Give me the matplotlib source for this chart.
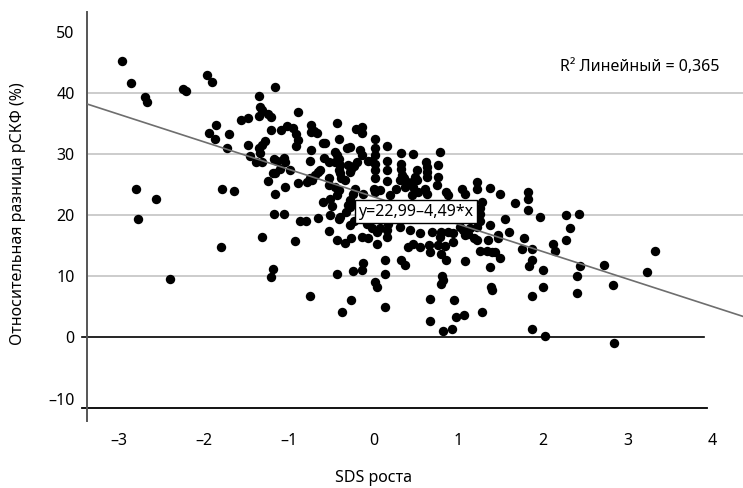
import matplotlib
matplotlib.use("Agg")
import numpy as np
from matplotlib import pyplot as plt

plt.rcParams['font.family'] = ['Noto Sans', 'DejaVu Sans']

# SDS роста / относительная разница рСКФ
left_pts = [
    (-2.97, 45.2), (-2.86, 41.6), (-2.70, 39.3), (-2.67, 38.5), (-2.25, 40.6), (-2.21, 40.3),
    (-1.96, 42.9), (-1.91, 41.7), (-1.16, 40.9), (-1.35, 39.4), (-1.34, 37.6), (-1.31, 37.2),
    (-1.35, 36.2), (-1.24, 36.5), (-1.21, 36.0), (-1.48, 35.9), (-1.56, 35.5), (-1.86, 34.7),
    (-1.94, 33.4), (-1.87, 32.5), (-1.70, 33.3), (-1.73, 31.0), (-1.48, 31.5), (-1.46, 29.7),
    (-1.35, 31.0), (-1.31, 31.4), (-1.28, 32.1), (-1.34, 30.1), (-1.21, 33.9), (-1.09, 33.9),
    (-1.38, 28.7), (-1.31, 28.7), (-1.17, 29.2), (-1.14, 28.9), (-1.06, 29.4), (-1.04, 28.7),
    (-0.98, 27.3), (-1.10, 27.6), (-1.19, 26.8), (-1.16, 26.8), (-1.25, 25.6), (-1.04, 24.6),
    (-1.16, 23.5), (-0.89, 25.3), (-1.02, 34.5), (-0.95, 34.2), (-0.91, 33.3), (-0.89, 32.2),
    (-0.91, 31.3), (-0.89, 36.9), (-2.80, 24.3), (-2.56, 22.7), (-1.79, 24.2), (-1.65, 23.9),
    (-2.78, 19.3), (-1.80, 14.8), (-2.40, 9.6), (-1.17, 20.2), (-1.06, 20.1), (-1.32, 16.4),
    (-0.93, 15.7), (-0.87, 19.1), (-1.19, 11.1), (-1.21, 9.9),
]
mid_upper_pts = [
    (-0.74, 34.7), (-0.74, 33.6), (-0.70, 33.8), (-0.67, 33.4), (-0.43, 35.1), (-0.41, 32.5),
    (-0.21, 34.0), (-0.13, 34.4), (-0.13, 33.4), (0.02, 32.5), (-0.74, 30.7), (-0.75, 28.9),
    (-0.59, 31.7), (-0.57, 31.8), (-0.58, 29.3), (-0.53, 28.7), (-0.45, 30.3), (-0.43, 29.8),
    (-0.41, 29.2), (-0.45, 28.7), (-0.40, 28.2), (-0.41, 27.3), (-0.40, 26.8), (-0.38, 26.0),
    (-0.31, 30.9), (-0.28, 31.1), (-0.30, 28.2), (-0.26, 27.6), (-0.28, 27.1), (-0.16, 30.6),
    (-0.14, 29.8), (-0.20, 28.7), (-0.23, 28.0), (-0.06, 28.9), (-0.02, 28.9), (0.02, 30.9),
    (0.02, 29.8), (0.02, 28.4), (0.02, 27.3), (0.02, 26.0), (0.00, 24.3), (0.02, 23.8),
    (0.16, 31.3), (0.16, 28.9), (0.16, 27.3), (0.16, 25.6), (-0.65, 27.1), (-0.63, 27.3),
    (-0.69, 26.5), (-0.75, 26.1), (-0.79, 25.4), (-0.73, 25.7), (-0.52, 26.0), (-0.45, 24.6),
    (-0.41, 24.1), (-0.34, 25.7), (-0.22, 24.3), (-0.24, 23.5), (-0.59, 22.1), (-0.51, 22.7),
    (-0.49, 21.4), (-0.30, 21.6), (-0.28, 22.4), (-0.53, 24.9), (-0.43, 23.2), (-0.12, 23.4),
    (0.08, 24.1), (0.19, 23.2), (0.27, 24.3),
]
mid_lower_pts = [
    (-0.51, 20.0), (-0.40, 19.7), (-0.41, 19.4), (-0.32, 20.5), (-0.28, 21.3), (-0.26, 21.9),
    (-0.28, 18.3), (-0.23, 19.1), (-0.80, 19.1), (-0.66, 19.5), (-0.53, 17.4), (-0.43, 15.9),
    (-0.34, 15.4), (-0.26, 16.2), (-0.14, 16.4), (-0.06, 16.2), (0.04, 15.3), (0.16, 16.4),
    (0.16, 17.5), (-0.16, 20.2), (-0.08, 18.6), (-0.02, 17.8), (0.04, 17.2), (0.08, 17.8),
    (0.17, 18.6), (-0.75, 6.7), (-0.43, 10.4), (-0.24, 10.8), (-0.13, 11.0), (-0.12, 12.1),
    (-0.27, 6.1), (-0.37, 4.1), (0.02, 9.1), (0.04, 8.2), (0.13, 10.4), (0.14, 12.6), (0.14, 5.0),
]
right_pts = [
    (0.32, 30.2), (0.46, 30.0), (0.78, 30.3), (0.76, 28.2), (0.62, 28.7), (0.63, 27.9),
    (0.63, 27.1), (0.63, 26.2), (0.51, 27.3), (0.49, 26.2), (0.51, 25.7), (0.33, 28.4),
    (0.32, 27.6), (0.34, 26.5), (0.36, 26.0), (0.39, 25.4), (0.31, 25.7), (0.37, 24.6),
    (0.75, 24.9), (0.86, 23.8), (0.88, 23.2), (1.04, 24.3), (1.08, 23.5), (1.22, 25.4),
    (1.22, 24.3), (1.37, 24.5), (1.49, 23.5), (0.45, 25.4), (0.47, 24.6), (0.61, 24.3),
    (0.63, 23.5), (0.76, 26.2), (0.45, 23.2), (0.53, 23.8), (1.67, 22.0), (1.82, 23.8),
    (1.82, 22.7), (1.82, 20.9), (1.28, 22.2), (1.26, 21.2), (1.26, 20.1), (1.26, 19.1),
    (1.37, 18.3), (1.96, 19.7), (2.27, 20.0), (2.42, 20.1), (1.14, 17.9), (1.12, 16.9),
    (1.08, 16.7), (1.18, 16.2), (1.22, 15.9), (1.26, 14.2), (1.34, 14.2), (1.40, 13.9),
    (1.43, 13.9), (1.49, 13.0), (1.35, 15.9), (1.47, 16.2), (1.47, 16.7), (1.55, 19.3),
    (1.60, 17.2), (1.77, 16.3), (1.75, 14.5), (1.87, 14.5), (1.87, 12.7), (1.83, 11.6),
    (2.12, 15.2), (2.14, 14.2), (2.27, 15.9), (2.32, 17.8), (2.00, 11.0), (2.44, 11.6),
    (2.40, 10.0), (2.40, 7.3), (2.00, 8.2), (1.87, 6.7), (1.39, 8.3), (1.40, 7.8),
    (1.37, 11.5), (1.08, 12.5), (2.72, 11.9), (2.82, 8.5), (3.23, 10.7), (3.32, 14.2),
    (1.07, 3.6), (1.28, 4.1), (1.87, 1.4), (2.02, 0.2), (2.84, -0.9), (0.41, 14.8),
    (0.47, 15.3), (0.55, 14.8), (0.65, 15.1), (0.67, 14.0), (0.78, 16.4), (0.76, 15.1),
    (0.80, 13.7), (0.69, 17.2), (0.80, 17.2), (0.88, 17.2), (0.94, 17.0), (1.02, 18.1),
    (1.06, 17.5), (1.22, 18.1), (0.31, 18.1), (0.43, 17.6), (0.55, 17.0), (0.33, 12.6),
    (0.37, 11.9), (0.81, 10.1), (0.80, 8.8), (0.82, 9.4), (0.67, 6.3), (0.67, 2.7),
    (0.82, 1.0), (0.93, 1.4), (0.95, 6.1), (0.97, 3.4), (0.86, 12.7), (0.84, 14.9), (0.94, 15.6),
]

intercept = 22.99
slope = -4.49
r2 = "0,365"

x_ticks = [-3, -2, -1, 0, 1, 2, 3, 4]
y_ticks = [-10, 0, 10, 20, 30, 40, 50]
grid_y = [10, 20, 30, 40]

pts = np.array(left_pts + mid_upper_pts + mid_lower_pts + right_pts)
fs = 11.5

fig = plt.figure(figsize=(7.43, 4.88), dpi=100)
ax = fig.add_axes([87.3 / 743, 79.7 / 488, (743 - 87.3) / 743, (408.3 - 12) / 488])
x0, x1 = -3.375, 4.357
y0, y1 = -11.6, 53.2
ax.set_xlim(x0, x1)
ax.set_ylim(y0, y1)

for g in grid_y:
    ax.axhline(g, color='#c4c4c4', lw=1.2, zorder=1)
ax.plot([-3.44, 3.9], [0, 0], color='black', lw=1.2, clip_on=False, zorder=2)
ax.plot([-3.44, 3.93], [y0, y0], color='black', lw=1.3, clip_on=False, zorder=2)
ax.plot([x0, x0], [-13.7, y1], color='#555555', lw=1.4, clip_on=False, zorder=2)

ax.scatter(pts[:, 0], pts[:, 1], s=46, color='black', linewidths=0, zorder=3)
ax.axline((0, intercept), slope=slope, color='#6e6e6e', lw=1.2, zorder=4)

ax.text(0.50, 20.5, "y=22,99–4,49*x", ha='center', va='center', fontsize=fs, zorder=5,
        bbox=dict(boxstyle='square,pad=0.22', fc='white', ec='black', lw=1.0))
ax.text(3.14, 44.2, "R² Линейный = " + r2, ha='center', va='center', fontsize=fs)

for s in ax.spines.values():
    s.set_visible(False)
ax.set_xticks(x_ticks)
ax.set_xticklabels([str(t).replace('-', '–') for t in x_ticks])
ax.set_yticks(y_ticks)
ax.set_yticklabels([str(t).replace('-', '–') for t in y_ticks])
ax.tick_params(axis='x', length=0, pad=18, labelsize=fs)
ax.tick_params(axis='y', length=0, pad=9, labelsize=fs)

ax.set_xlabel("SDS роста", fontsize=fs, va='center')
ax.xaxis.set_label_coords(0.4365, -0.176)
ax.set_ylabel("Относительная разница рСКФ (%)", fontsize=fs, va='center')
ax.yaxis.set_label_coords(-0.1057, 0.49)

fig.savefig("out.png", dpi=100)
